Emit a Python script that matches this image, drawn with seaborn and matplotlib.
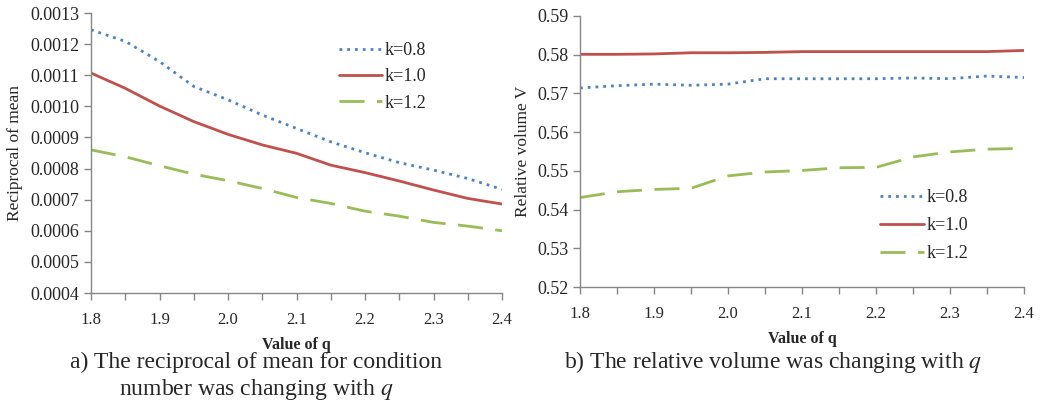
import numpy as np
import pandas as pd
import matplotlib
matplotlib.use("Agg")
import matplotlib.pyplot as plt
import seaborn as sns

# values of q (13 points, step 0.05)
q = [1.80, 1.85, 1.90, 1.95, 2.00, 2.05, 2.10, 2.15, 2.20, 2.25, 2.30, 2.35, 2.40]
labels = ["k=0.8", "k=1.0", "k=1.2"]

# a) reciprocal of mean for condition number
recip_k08 = [0.001246, 0.001209, 0.001144, 0.001064, 0.001021, 0.000972, 0.000929,
             0.000886, 0.000851, 0.000819, 0.000795, 0.000768, 0.000733]
recip_k10 = [0.001107, 0.001058, 0.001001, 0.000951, 0.000910, 0.000876, 0.000849,
             0.000811, 0.000787, 0.000760, 0.000731, 0.000704, 0.000686]
recip_k12 = [0.000860, 0.000838, 0.000809, 0.000782, 0.000761, 0.000736, 0.000707,
             0.000688, 0.000663, 0.000647, 0.000627, 0.000615, 0.000600]

# b) relative volume V
vol_k08 = [0.5714, 0.5720, 0.5724, 0.5721, 0.5724, 0.5738, 0.5738,
           0.5738, 0.5738, 0.5740, 0.5738, 0.5745, 0.5741]
vol_k10 = [0.5801, 0.5801, 0.5802, 0.5805, 0.5805, 0.5806, 0.5808,
           0.5808, 0.5808, 0.5808, 0.5808, 0.5808, 0.5811]
vol_k12 = [0.5431, 0.5446, 0.5452, 0.5455, 0.5487, 0.5497, 0.5501,
           0.5508, 0.5509, 0.5536, 0.5549, 0.5556, 0.5558]

sns.set_style("white")
plt.rcParams["font.family"] = ["Liberation Serif", "DejaVu Serif"]
plt.rcParams["mathtext.fontset"] = "stix"

colors = {"k=0.8": "#4F81BD", "k=1.0": "#C0504D", "k=1.2": "#9BBB59"}
dashes = {"k=0.8": (1, 1.8), "k=1.0": "", "k=1.2": (9, 4.5)}


def long_df(series):
    rows = []
    for lab, vals in zip(labels, series):
        for x, v in zip(q, vals):
            rows.append({"q": x, "value": v, "k": lab})
    return pd.DataFrame(rows)


df_a = long_df([recip_k08, recip_k10, recip_k12])
df_b = long_df([vol_k08, vol_k10, vol_k12])

fig = plt.figure(figsize=(10.5, 4.03), dpi=100)
ax1 = fig.add_axes([91 / 1050, 1 - 293 / 403, 411 / 1050, 280 / 403])
ax2 = fig.add_axes([580 / 1050, 1 - 287 / 403, 444 / 1050, 271 / 403])

xt = q
xl = ["1.8", "", "1.9", "", "2.0", "", "2.1", "", "2.2", "", "2.3", "", "2.4"]

for ax, df in [(ax1, df_a), (ax2, df_b)]:
    sns.lineplot(data=df, x="q", y="value", hue="k", style="k",
                 palette=colors, dashes=dashes, linewidth=2, ax=ax)
    ax.set_xlim(1.8, 2.4)
    ax.set_xticks(xt)
    ax.set_xticklabels(xl, fontsize=12)
    for s in ["top", "right"]:
        ax.spines[s].set_visible(False)
    for s in ["left", "bottom"]:
        ax.spines[s].set_color("#868686")
        ax.spines[s].set_linewidth(1)
    ax.tick_params(axis="x", direction="out", length=5, width=1, color="#868686",
                   pad=9, bottom=True)
    ax.tick_params(axis="y", direction="out", length=5, width=1, color="#868686",
                   labelsize=13, left=True)
    ax.set_xlabel("Value of q", fontsize=11.5, fontweight="bold", labelpad=6)

ax1.set_ylim(0.0004, 0.0013)
ax1.set_yticks(np.arange(0.0004, 0.00131, 0.0001))
ax1.set_yticklabels([f"{v:.4f}" for v in np.arange(0.0004, 0.00131, 0.0001)])
ax1.set_ylabel("Reciprocal of mean", fontsize=12.5, labelpad=5)

ax2.set_ylim(0.52, 0.59)
ax2.set_yticks(np.arange(0.52, 0.5901, 0.01))
ax2.set_yticklabels([f"{v:.2f}" for v in np.arange(0.52, 0.5901, 0.01)])
ax2.set_ylabel("Relative volume V", fontsize=12.5, labelpad=4)

ax1.legend(loc="upper left", bbox_to_anchor=(0.563, 0.955), frameon=False, fontsize=13,
           handlelength=2.4, handletextpad=0.15, labelspacing=0.52)
ax2.legend(loc="upper left", bbox_to_anchor=(0.64, 0.42), frameon=False, fontsize=13,
           handlelength=2.4, handletextpad=0.15, labelspacing=0.6)

fig.text(256 / 1050, 1 - 362 / 403, "a) The reciprocal of mean for condition",
         ha="center", va="center", fontsize=17)
fig.text(256 / 1050, 1 - 390 / 403, "number was changing with $q$",
         ha="center", va="center", fontsize=17)
fig.text(773 / 1050, 1 - 362 / 403, "b) The relative volume was changing with $q$",
         ha="center", va="center", fontsize=17)

fig.savefig("out.png", dpi=100)
